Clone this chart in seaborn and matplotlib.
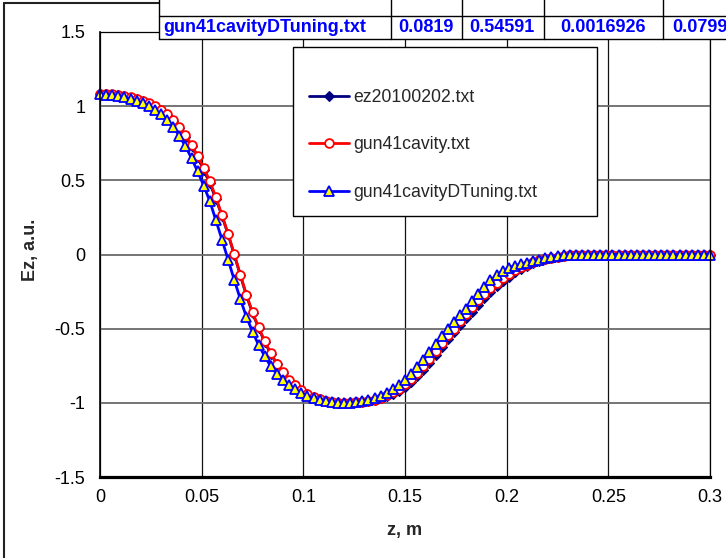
import matplotlib
matplotlib.use("Agg")
import matplotlib.pyplot as plt
import seaborn as sns
from matplotlib.lines import Line2D
from matplotlib.patches import Rectangle

# ---------------- data ----------------
z = [0.000, 0.003, 0.006, 0.009, 0.012, 0.015, 0.018, 0.021, 0.024, 0.027,
     0.030, 0.033, 0.036, 0.039, 0.042, 0.045, 0.048, 0.051, 0.054, 0.057,
     0.060, 0.063, 0.066, 0.069, 0.072, 0.075, 0.078, 0.081, 0.084, 0.087,
     0.090, 0.093, 0.096, 0.099, 0.102, 0.105, 0.108, 0.111, 0.114, 0.117,
     0.120, 0.123, 0.126, 0.129, 0.132, 0.135, 0.138, 0.141, 0.144, 0.147,
     0.150, 0.153, 0.156, 0.159, 0.162, 0.165, 0.168, 0.171, 0.174, 0.177,
     0.180, 0.183, 0.186, 0.189, 0.192, 0.195, 0.198, 0.201, 0.204, 0.207,
     0.210, 0.213, 0.216, 0.219, 0.222, 0.225, 0.228, 0.231, 0.234, 0.237,
     0.240, 0.243, 0.246, 0.249, 0.252, 0.255, 0.258, 0.261, 0.264, 0.267,
     0.270, 0.273, 0.276, 0.279, 0.282, 0.285, 0.288, 0.291, 0.294, 0.297,
     0.300]

ez20100202 = [1.080, 1.080, 1.077, 1.072, 1.066, 1.057, 1.046, 1.033, 1.016, 0.995,
              0.970, 0.938, 0.898, 0.850, 0.795, 0.730, 0.655, 0.570, 0.480, 0.375,
              0.260, 0.135, 0.000, -0.140, -0.275, -0.395, -0.495, -0.590, -0.670, -0.740,
              -0.800, -0.850, -0.888, -0.918, -0.943, -0.962, -0.977, -0.987, -0.993, -0.997,
              -0.998, -0.997, -0.995, -0.992, -0.987, -0.980, -0.970, -0.957, -0.940, -0.918,
              -0.890, -0.858, -0.820, -0.778, -0.730, -0.680, -0.625, -0.570, -0.520, -0.475,
              -0.430, -0.385, -0.340, -0.295, -0.255, -0.215, -0.180, -0.150, -0.120, -0.095,
              -0.075, -0.058, -0.044, -0.032, -0.022, -0.014, -0.009, -0.005, -0.003, -0.001,
              0.0, 0.0, 0.0, 0.0, 0.0, 0.0, 0.0, 0.0, 0.0, 0.0,
              0.0, 0.0, 0.0, 0.0, 0.0, 0.0, 0.0, 0.0, 0.0, 0.0,
              0.0]

gun41cavity = [1.085, 1.083, 1.080, 1.075, 1.068, 1.060, 1.050, 1.037, 1.020, 1.000,
               0.975, 0.945, 0.905, 0.860, 0.805, 0.740, 0.665, 0.585, 0.495, 0.385,
               0.265, 0.140, 0.005, -0.135, -0.270, -0.390, -0.490, -0.585, -0.665, -0.735,
               -0.795, -0.845, -0.880, -0.912, -0.938, -0.958, -0.974, -0.985, -0.993, -0.998,
               -1.000, -0.999, -0.997, -0.993, -0.987, -0.978, -0.966, -0.950, -0.930, -0.905,
               -0.875, -0.840, -0.800, -0.755, -0.705, -0.650, -0.595, -0.545, -0.500, -0.450,
               -0.400, -0.355, -0.310, -0.265, -0.225, -0.190, -0.160, -0.130, -0.105, -0.085,
               -0.068, -0.053, -0.040, -0.030, -0.021, -0.014, -0.009, -0.005, -0.003, -0.001,
               0.0, 0.0, 0.0, 0.0, 0.0, 0.0, 0.0, 0.0, 0.0, 0.0,
               0.0, 0.0, 0.0, 0.0, 0.0, 0.0, 0.0, 0.0, 0.0, 0.0,
               0.0]

gun41cavityDTuning = [1.080, 1.078, 1.074, 1.068, 1.060, 1.050, 1.037, 1.020, 1.000, 0.975,
                      0.945, 0.905, 0.860, 0.800, 0.730, 0.650, 0.560, 0.465, 0.360, 0.230,
                      0.100, -0.035, -0.170, -0.300, -0.420, -0.520, -0.610, -0.685, -0.755, -0.805,
                      -0.845, -0.880, -0.910, -0.935, -0.955, -0.970, -0.982, -0.991, -0.997, -1.000,
                      -1.002, -1.000, -0.997, -0.990, -0.982, -0.970, -0.955, -0.935, -0.910, -0.880,
                      -0.845, -0.805, -0.760, -0.710, -0.660, -0.605, -0.550, -0.500, -0.455, -0.410,
                      -0.365, -0.315, -0.265, -0.220, -0.175, -0.140, -0.110, -0.090, -0.075, -0.065,
                      -0.055, -0.045, -0.035, -0.025, -0.015, -0.008, -0.004, -0.002, 0.0, 0.0,
                      0.0, 0.0, 0.0, 0.0, 0.0, 0.0, 0.0, 0.0, 0.0, 0.0,
                      0.0, 0.0, 0.0, 0.0, 0.0, 0.0, 0.0, 0.0, 0.0, 0.0,
                      0.0]

series_labels = ["ez20100202.txt", "gun41cavity.txt", "gun41cavityDTuning.txt"]

x_ticks = [0.0, 0.05, 0.1, 0.15, 0.2, 0.25, 0.3]
x_tick_labels = ["0", "0.05", "0.1", "0.15", "0.2", "0.25", "0.3"]
y_ticks = [-1.5, -1.0, -0.5, 0.0, 0.5, 1.0, 1.5]
y_tick_labels = ["-1.5", "-1", "-0.5", "0", "0.5", "1", "1.5"]

x_title = "z, m"
y_title = "Ez, a.u."

table_cells = ["gun41cavityDTuning.txt", "0.0819", "0.54591", "0.0016926", "0.0799"]

# ---------------- styling ----------------
sns.set_style("white")
plt.rcParams["font.family"] = ["Liberation Sans", "DejaVu Sans"]

W, H = 726, 558
fig = plt.figure(figsize=(W / 100, H / 100), dpi=100)
fig.patch.set_facecolor("white")


def fx(px):
    return px / W


def fy(py):
    return 1 - py / H


AX_L, AX_R, AX_T, AX_B = 100, 710, 32, 477
ax = fig.add_axes([fx(AX_L), fy(AX_B), fx(AX_R) - fx(AX_L), fy(AX_T) - fy(AX_B)])

styles = [
    dict(color="#000080", marker="D", markersize=4.8, markerfacecolor="#000080",
         markeredgecolor="#000080", markeredgewidth=0.8),
    dict(color="#FF0000", marker="o", markersize=6.3, markerfacecolor="white",
         markeredgecolor="#FF0000", markeredgewidth=1.3),
    dict(color="#0000FF", marker="^", markersize=7.0, markerfacecolor="#FFFF00",
         markeredgecolor="#0000FF", markeredgewidth=1.3),
]
series_values = [ez20100202, gun41cavity, gun41cavityDTuning]

for vals, st in zip(series_values, styles):
    sns.lineplot(x=z, y=vals, ax=ax, linewidth=2.0, estimator=None, errorbar=None,
                 sort=False, legend=False, clip_on=False, **st)

ax.set_xlim(0, 0.3)
ax.set_ylim(-1.5, 1.5)
ax.set_xticks(x_ticks, labels=x_tick_labels)
ax.set_yticks(y_ticks, labels=y_tick_labels)
ax.tick_params(axis="both", direction="out", length=4, width=1.0, color="black",
               labelsize=13, labelcolor="black")
ax.tick_params(axis="y", pad=6.5)
ax.tick_params(axis="x", pad=5)

ax.set_axisbelow(True)
ax.yaxis.grid(True, color="#6a6a6a", linewidth=1.3)
ax.xaxis.grid(True, color="#111111", linewidth=0.9)

for side, lw in (("left", 1.2), ("bottom", 2.3), ("top", 0.9), ("right", 0.9)):
    ax.spines[side].set_visible(True)
    ax.spines[side].set_color("black")
    ax.spines[side].set_linewidth(lw)

ax.set_xlabel(x_title, fontsize=13, fontweight="bold")
ax.set_ylabel(y_title, fontsize=13, fontweight="bold")
ax.xaxis.label.set_va("center")
ax.yaxis.label.set_va("center")
ax.yaxis.label.set_ha("center")
ax.xaxis.set_label_coords((405 - AX_L) / (AX_R - AX_L), (AX_B - 530) / (AX_B - AX_T))
ax.yaxis.set_label_coords((31 - AX_L) / (AX_R - AX_L), (AX_B - 250) / (AX_B - AX_T))

# ---------------- legend ----------------
LEG_L, LEG_R, LEG_T, LEG_B = 293, 597, 47, 216
fig.add_artist(Rectangle((fx(LEG_L), fy(LEG_B)), fx(LEG_R) - fx(LEG_L), fy(LEG_T) - fy(LEG_B),
                         transform=fig.transFigure, facecolor="white", edgecolor="black",
                         linewidth=1.0, zorder=3))
handles = [Line2D([], [], linewidth=2.0, **st) for st in styles]
fig.legend(handles, series_labels, loc="upper left",
           bbox_to_anchor=(fx(309), fy(89)), bbox_transform=fig.transFigure,
           frameon=False, fontsize=12.7, borderpad=0, borderaxespad=0,
           handlelength=2.26, handletextpad=0.25, labelspacing=1.72, numpoints=1)

# ---------------- outer chart frame ----------------
fig.add_artist(Line2D([fx(4), fx(4)], [fy(3), fy(H + 5)], transform=fig.transFigure,
                      color="#222222", linewidth=1.5, zorder=2))
fig.add_artist(Line2D([fx(4), fx(170)], [fy(3), fy(3)], transform=fig.transFigure,
                      color="#222222", linewidth=1.5, zorder=2))

# ---------------- spreadsheet strip at the top ----------------
TB_L, TB_ROW, TB_B = 159, 16, 39
col_edges = [159, 391, 462, 544, 663]
fig.add_artist(Rectangle((fx(TB_L), fy(TB_B)), fx(W + 10) - fx(TB_L), fy(-10) - fy(TB_B),
                         transform=fig.transFigure, facecolor="white", edgecolor="none",
                         zorder=6))
for cx in col_edges:
    fig.add_artist(Line2D([fx(cx), fx(cx)], [fy(-5), fy(TB_B)], transform=fig.transFigure,
                          color="black", linewidth=1.0, zorder=7))
for ry in (TB_ROW, TB_B):
    fig.add_artist(Line2D([fx(TB_L), fx(W + 5)], [fy(ry), fy(ry)], transform=fig.transFigure,
                          color="black", linewidth=1.0, zorder=7))
text_x = [163, 398, 469, 560, 672]
for tx, txt in zip(text_x, table_cells):
    fig.text(fx(tx), fy(28), txt, ha="left", va="center", fontsize=13, fontweight="bold",
             color="#0000FF", zorder=8)

fig.savefig("out.png", dpi=100, facecolor="white")
